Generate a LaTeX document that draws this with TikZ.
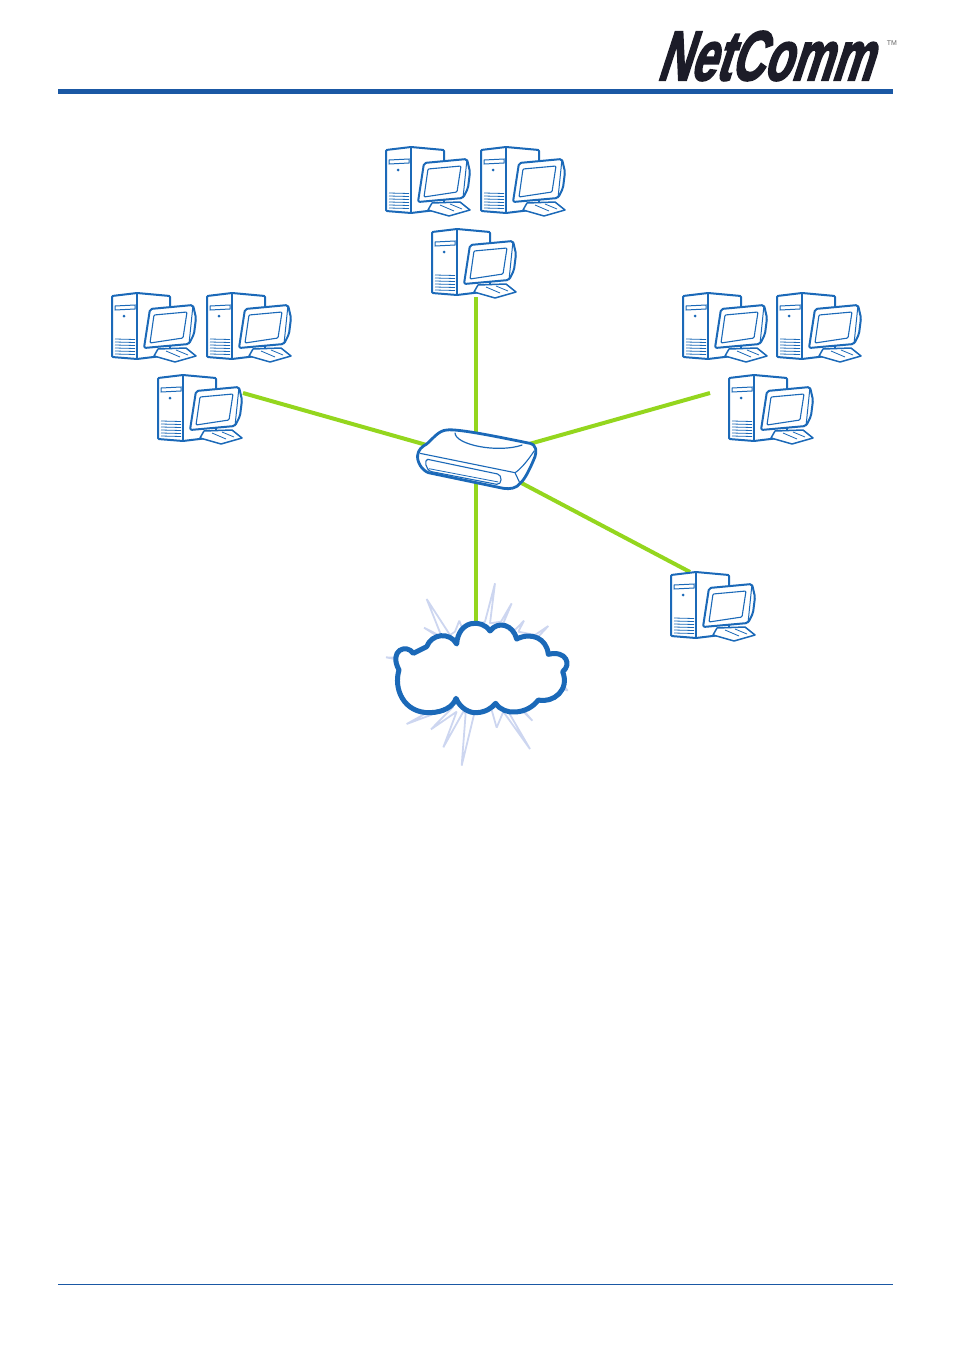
\documentclass[tikz,border=0pt]{standalone}
\usepackage{fontspec}
\usepackage{graphicx}
\usetikzlibrary{arrows.meta,backgrounds}
\newfontfamily\logofont[FakeSlant=0.5,FakeBold=3]{Liberation Sans Bold}
\newfontfamily\markfont{Liberation Sans}
\definecolor{netblue}{RGB}{27,105,184}
\definecolor{barblue}{RGB}{26,88,164}
\definecolor{linkgreen}{RGB}{148,214,30}
\definecolor{burstblue}{RGB}{205,214,240}
\definecolor{logoblack}{RGB}{28,28,40}
\tikzset{
  outline/.style={draw=netblue,line width=2pt,line join=round},
  thinline/.style={draw=netblue,line width=0.8pt},
  link/.style={draw=linkgreen,line width=4pt},
  computer/.pic={
    \coordinate (-west) at (-19,18);
    \coordinate (-east) at (85,18);
    \coordinate (-top) at (19,0);
    \coordinate (-south) at (44,68);
    \draw[outline,fill=white,rounded corners=1pt] (0,3)--(25,0)--(58,3)--(58,62)--(25,66)--(0,64)--cycle;
    \draw[outline,line width=1.1pt] (25,0)--(25,66);
    \draw[thinline,line width=1pt] (3,13)--(23,12)--(23,16)--(3,17)--cycle;
    \fill[netblue] (12,23) circle (1.5);
    \foreach \vy in {46,49,52,55,58,61} {\draw[thinline] (3,\vy)--(23,\vy+0.5);}
    \draw[outline,line width=1.5pt,fill=white] (46,56)--(42,63)--(63,69)--(84,63)--(74,55)--cycle;
    \draw[thinline] (54,58)--(68,64) (64,57)--(76,62);
    \draw[outline,fill=white,rounded corners=2pt] (38,16)--(81,12)--(84,25)--(82,41)--(77,51)--(32,55)--cycle;
    \draw[thinline,line width=1pt] (81,12)--(77,51);
    \draw[outline,line width=1.1pt,rounded corners=1pt] (42,22)--(75,19)--(71,45)--(38,50)--cycle;
  }
}
\begin{document}
\begin{tikzpicture}[x=1pt,y=-1pt]
\useasboundingbox (0,0) rectangle (954,1349);
% page header and footer
\node[inner sep=0pt,font=\fontsize{70}{70}\logofont,text=logoblack] (logo) at (764,56) {\scalebox{0.65}[1.0]{NetComm}};
\node[inner sep=0pt,font=\fontsize{7}{7}\markfont,text=black!60] (logomark) at (892,43) {TM};
\fill[barblue] (58,89) rectangle (893,94);
\draw[barblue,line width=0.8pt] (58,1284.5)--(893,1284.5);
% computers
\pic (pc_a) at (386,147) {computer};
\pic (pc_b) at (481,147) {computer};
\pic (pc_c) at (432,229) {computer};
\pic (pc_d) at (112,293) {computer};
\pic (pc_e) at (207,293) {computer};
\pic (pc_f) at (158,375) {computer};
\pic (pc_g) at (683,293) {computer};
\pic (pc_h) at (777,293) {computer};
\pic (pc_i) at (729,375) {computer};
\pic (pc_j) at (671,572) {computer};
\coordinate (router) at (476,459);
\coordinate (cloud) at (476,660);
% links
\begin{scope}[on background layer]
\draw[link] (pc_c-south)--(router);
\draw[link] (pc_f-east)--(router);
\draw[link] (pc_i-west)--(router);
\draw[link] (pc_j-top)--(router);
\draw[link] (cloud)--(router);
\end{scope}
% router
\begin{scope}[shift={(405,420)},x=0.3333pt,y=-0.3333pt]
\draw[outline,line width=2.8pt,fill=white] (125,30) .. controls (160,25) and (300,55) .. (375,70) .. controls (395,75) and (395,95) .. (390,110) .. controls (380,135) and (360,180) .. (345,190) .. controls (335,205) and (315,208) .. (295,205) -- (70,158) .. controls (50,150) and (35,125) .. (38,105) .. controls (40,90) and (50,80) .. (65,72) .. controls (85,55) and (100,32) .. (125,30) -- cycle;
\draw[outline,line width=1.1pt] (45,100) -- (330,158) .. controls (345,150) and (370,120) .. (388,92);
\draw[outline,line width=1.1pt] (330,158) -- (345,190);
\draw[outline,line width=1.1pt] (68,118) -- (278,162) .. controls (292,165) and (292,195) .. (275,193) -- (80,155) .. controls (60,150) and (58,118) .. (68,118) -- cycle;
\draw[outline,line width=0.8pt] (72,146) -- (280,186);
\draw[outline,line width=1.2pt] (150,38) .. controls (150,75) and (280,100) .. (352,75);
\end{scope}
% cloud
\begin{scope}[shift={(375,575)},x=0.3333pt,y=-0.3333pt]
\draw[burstblue,line width=1.8pt,line join=bevel] (330,140)--(360,25)--(345,145)--(378,140)--(410,85)--(385,145)--(420,165)--(447,137)--(430,170)--(480,180)--(520,153)--(490,185)--(540,300)--(578,347)--(540,330)--(440,400)--(472,437)--(430,395)--(400,410)--(465,522)--(385,410)--(365,458)--(350,405)--(298,415)--(260,572)--(272,415)--(265,410)--(205,517)--(245,410)--(168,463)--(235,395)--(95,447)--(180,400)--(100,250)--(33,247)--(100,260)--(190,185)--(147,158)--(200,185)--(155,72)--(225,180)--(240,170)--(253,137)--(265,170)--cycle;
\draw[outline,line width=5pt,fill=white] (72,285) .. controls (55,340) and (85,415) .. (165,413) .. controls (205,412) and (235,395) .. (243,370) .. controls (255,400) and (285,415) .. (305,413) .. controls (330,412) and (350,400) .. (362,385) .. controls (375,405) and (400,413) .. (420,411) .. controls (450,410) and (475,395) .. (490,375) .. controls (535,385) and (585,345) .. (563,290) .. controls (590,270) and (575,225) .. (520,238) .. controls (515,190) and (470,170) .. (425,192) .. controls (415,150) and (370,135) .. (345,168) .. controls (320,130) and (250,135) .. (245,207) .. controls (225,170) and (170,175) .. (155,215) -- (115,235) .. controls (95,205) and (40,225) .. (72,285) -- cycle;
\end{scope}
\end{tikzpicture}
\end{document}
